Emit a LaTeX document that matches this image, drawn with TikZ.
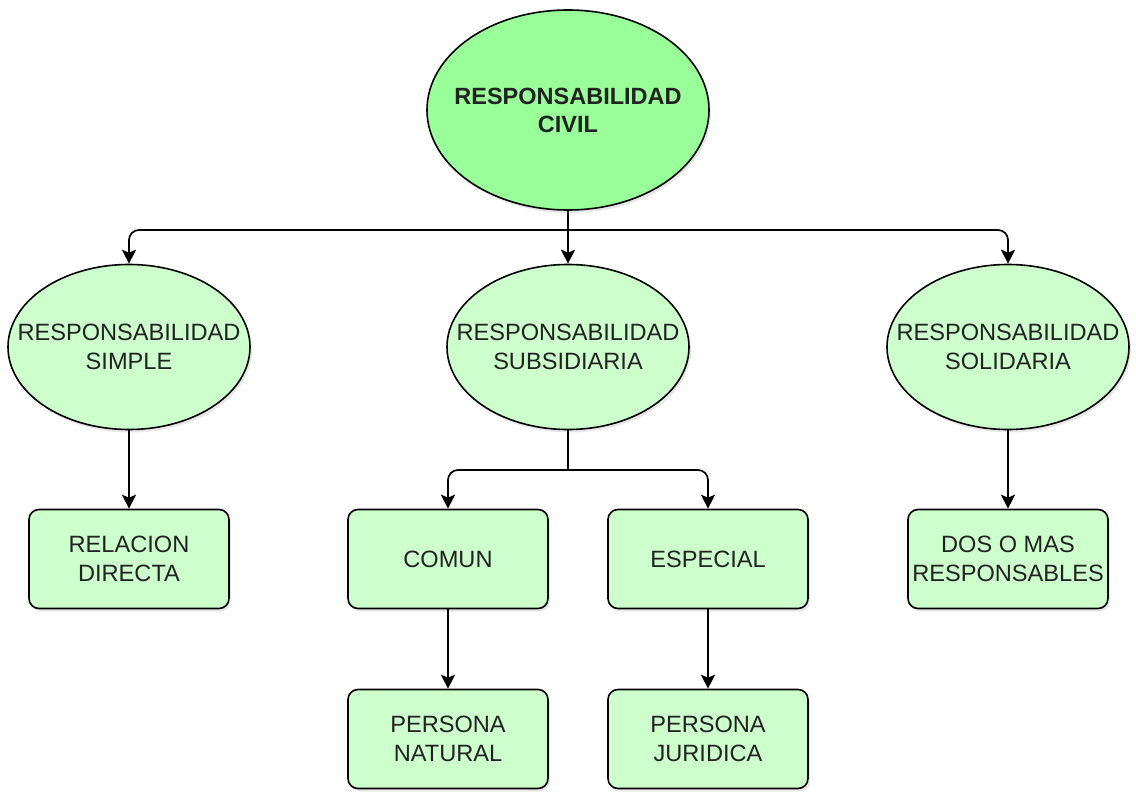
\documentclass[tikz,border=0pt]{standalone}
\usepackage{fontspec}
\setmainfont{Liberation Sans}
\usetikzlibrary{arrows.meta,shapes.geometric,shadows}

\definecolor{topgreen}{HTML}{99FF99}
\definecolor{boxgreen}{HTML}{CCFFCC}
\definecolor{inkgray}{HTML}{222222}

\tikzset{
    base/.style={draw=black, line width=1.6pt, inner sep=0pt,
        drop shadow={opacity=0.18, shadow xshift=2pt, shadow yshift=-3pt}},
    oval/.style={base, ellipse, fill=boxgreen, minimum width=242pt, minimum height=165pt},
    card/.style={base, rectangle, rounded corners=10pt, fill=boxgreen,
        minimum width=200pt, minimum height=99pt, align=center, text=inkgray,
        font=\fontsize{23.6}{29}\selectfont},
    txt/.style={align=center, text=inkgray, font=\fontsize{23.6}{29}\selectfont},
    link/.style={line width=1.7pt, -{Stealth[length=14pt, width=14pt, inset=3pt]}}
}

\begin{document}
\begin{tikzpicture}[x=1pt, y=-1pt]
    \useasboundingbox (0,0) rectangle (1136,792);

    % root
    \node[oval, fill=topgreen, minimum width=282pt, minimum height=200pt,
        label={[txt, font=\bfseries\fontsize{23.5}{28}\selectfont]center:RESPONSABILIDAD\\CIVIL}]
        (civil) at (568,110) {};

    % second level
    \node[oval, label={[txt]center:RESPONSABILIDAD\\SIMPLE}] (simple) at (129,347) {};
    \node[oval, label={[txt]center:RESPONSABILIDAD\\SUBSIDIARIA}] (subsid) at (568,347) {};
    \node[oval, label={[txt]center:RESPONSABILIDAD\\SOLIDARIA}] (solid) at (1008,347) {};

    % third level
    \node[card] (directa) at (129,559) {RELACION\\DIRECTA};
    \node[card] (comun) at (448,559) {COMUN};
    \node[card] (especial) at (708,559) {ESPECIAL};
    \node[card] (dosomas) at (1008,559) {DOS O MAS\\RESPONSABLES};

    % fourth level
    \node[card] (natural) at (448,739) {PERSONA\\NATURAL};
    \node[card] (juridica) at (708,739) {PERSONA\\JURIDICA};

    % junctions
    \coordinate (j1) at (568,230);
    \coordinate (j2) at (568,470);

    \draw[line width=1.7pt] (civil.south) -- (j1);
    \draw[link, rounded corners=10pt] (j1) -| (simple.north);
    \draw[link] (j1) -- (subsid.north);
    \draw[link, rounded corners=10pt] (j1) -| (solid.north);

    \draw[link] (simple.south) -- (directa.north);
    \draw[line width=1.7pt] (subsid.south) -- (j2);
    \draw[link, rounded corners=10pt] (j2) -| (comun.north);
    \draw[link, rounded corners=10pt] (j2) -| (especial.north);
    \draw[link] (solid.south) -- (dosomas.north);

    \draw[link] (comun.south) -- (natural.north);
    \draw[link] (especial.south) -- (juridica.north);
\end{tikzpicture}
\end{document}
